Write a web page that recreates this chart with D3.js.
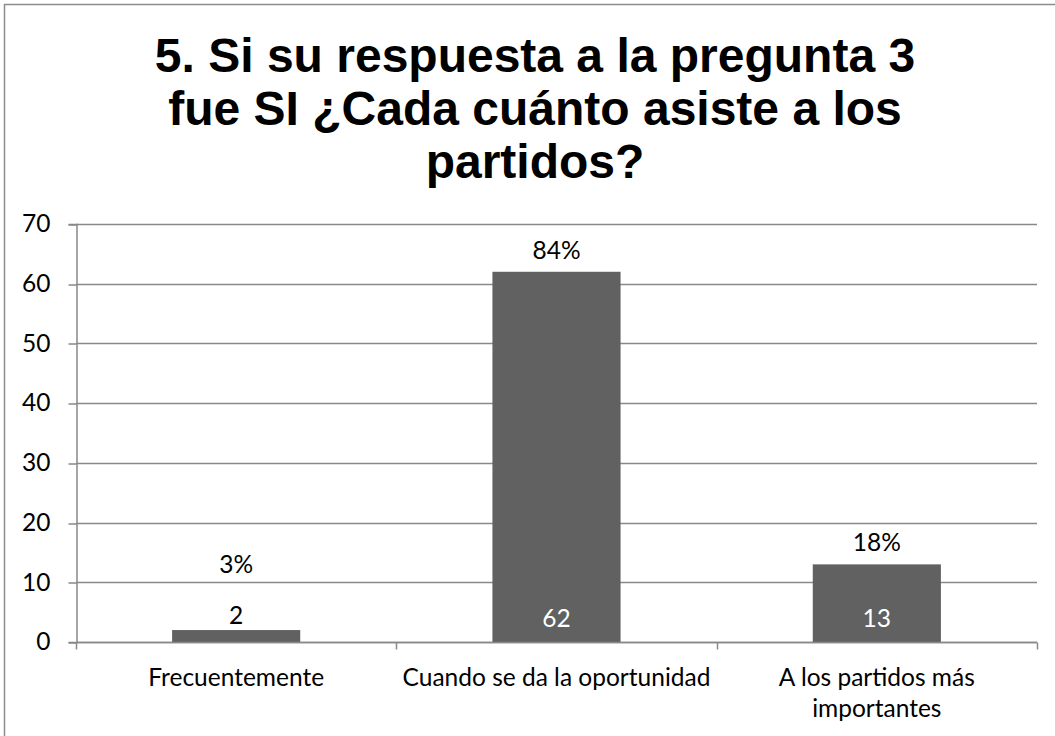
<!DOCTYPE html>
<html>
<head>
<meta charset="utf-8">
<script src="https://cdn.jsdelivr.net/npm/d3@7"></script>
<style>
  html, body { margin: 0; padding: 0; background: #fff; }
  svg { display: block; }
</style>
</head>
<body>
<svg id="chart" width="1055" height="736"></svg>
<script>
// Attendance frequency among respondents who answered "SI" to question 3
const titleLines = ["5. Si su respuesta a la pregunta 3", "fue SI ¿Cada cuánto asiste a los", "partidos?"];
const categories = ["Frecuentemente", "Cuando se da la oportunidad", "A los partidos más importantes"];
const counts = [2, 62, 13];
const percents = ["3%", "84%", "18%"];
const yTicks = [0, 10, 20, 30, 40, 50, 60, 70];

const W = 1055, H = 736;
const margin = { left: 76, right: 18, top: 224, bottom: 94 };
const labelFont = "Lato, 'Open Sans', sans-serif";
const labelSize = 24.5;
const gridColor = "#898989";
const barColor = "#616161";

const svg = d3.select("#chart");

// Outer chart frame
svg.append("rect")
  .attr("x", 4.5).attr("y", 4.5)
  .attr("width", W + 10).attr("height", H + 10)
  .attr("fill", "#fff").attr("stroke", "#8c8c8c").attr("stroke-width", 1.5);

// Title
const title = svg.append("text")
  .attr("text-anchor", "middle")
  .attr("font-family", "'Liberation Sans', Arial, sans-serif")
  .attr("font-weight", "bold")
  .attr("font-size", 48)
  .attr("fill", "#000");
titleLines.forEach((t, i) => {
  title.append("tspan").attr("x", 535).attr("y", 72 + i * 53).text(t);
});

const x = d3.scaleBand()
  .domain(categories)
  .range([margin.left, W - margin.right])
  .padding(0);

const y = d3.scaleLinear()
  .domain([0, 70])
  .range([H - margin.bottom, margin.top]);

// Horizontal gridlines
svg.append("g")
  .selectAll("line")
  .data(yTicks)
  .join("line")
  .attr("x1", margin.left).attr("x2", W - margin.right)
  .attr("y1", d => Math.round(y(d)) + 0.5).attr("y2", d => Math.round(y(d)) + 0.5)
  .attr("stroke", gridColor).attr("stroke-width", 1.5);

// Y axis
const yAxis = svg.append("g")
  .attr("transform", `translate(${margin.left + 0.5},0)`)
  .call(d3.axisLeft(y).tickValues(yTicks).tickSize(8).tickPadding(18).tickFormat(d3.format("d")));
yAxis.select(".domain").attr("stroke", gridColor).attr("stroke-width", 1.5);
yAxis.selectAll(".tick line").attr("stroke", gridColor).attr("stroke-width", 1.5)
  .attr("transform", d => `translate(0,${Math.round(y(d)) + 0.5 - y(d)})`);
yAxis.selectAll(".tick text")
  .attr("font-family", labelFont).attr("font-size", labelSize).attr("fill", "#000");

// Bars
const barW = x.bandwidth() * 0.4;
svg.append("g")
  .selectAll("rect")
  .data(counts)
  .join("rect")
  .attr("x", (d, i) => x(categories[i]) + (x.bandwidth() - barW) / 2)
  .attr("y", d => y(d))
  .attr("width", barW)
  .attr("height", d => y(0) - y(d))
  .attr("fill", barColor);

// X axis baseline and category separators
const baseY = Math.round(y(0)) + 0.5;
svg.append("line")
  .attr("x1", margin.left).attr("x2", W - margin.right)
  .attr("y1", baseY).attr("y2", baseY)
  .attr("stroke", gridColor).attr("stroke-width", 1.5);
const seps = categories.map(c => x(c)).concat([x(categories[categories.length - 1]) + x.bandwidth()]);
svg.append("g")
  .selectAll("line")
  .data(seps)
  .join("line")
  .attr("x1", d => Math.round(d) + 0.5).attr("x2", d => Math.round(d) + 0.5)
  .attr("y1", baseY).attr("y2", baseY + 7)
  .attr("stroke", gridColor).attr("stroke-width", 1.5);

// Category labels (wrapped to the band width)
const catG = svg.append("g")
  .attr("font-family", labelFont).attr("font-size", labelSize).attr("fill", "#000")
  .attr("text-anchor", "middle");
categories.forEach((c, i) => {
  const cx = x(c) + x.bandwidth() / 2;
  const t = catG.append("text");
  const words = c.split(" ");
  let lines = [c];
  if (i === 2) lines = [words.slice(0, 4).join(" "), words.slice(4).join(" ")];
  lines.forEach((ln, j) => {
    t.append("tspan").attr("x", cx).attr("y", 686 + j * 31).text(ln);
  });
});

// Count labels at the base of each bar (white inside, black above when the bar is too short)
const labelG = svg.append("g")
  .attr("font-family", labelFont).attr("font-size", labelSize).attr("text-anchor", "middle");
counts.forEach((v, i) => {
  const cx = x(categories[i]) + x.bandwidth() / 2;
  const inside = y(0) - y(v) > 24;
  labelG.append("text")
    .attr("x", cx).attr("y", inside ? y(0) - 15 : y(v) - 6)
    .attr("fill", inside ? "#fff" : "#000")
    .text(v);
  labelG.append("text")
    .attr("x", cx).attr("y", inside ? y(v) - 13 : y(v) - 57)
    .attr("fill", "#000")
    .text(percents[i]);
});
</script>
</body>
</html>
